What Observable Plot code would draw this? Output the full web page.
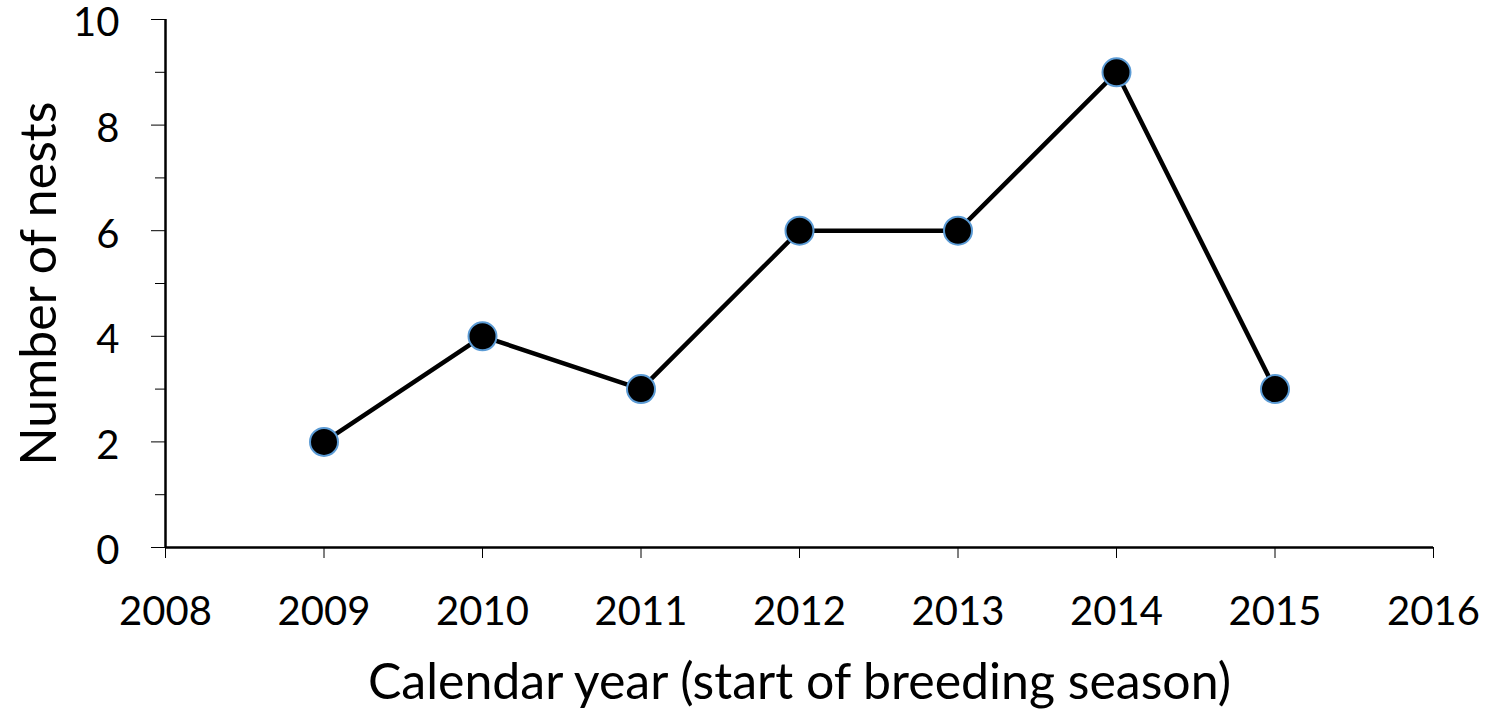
<!DOCTYPE html>
<html>
<head>
<meta charset="utf-8">
<script src="https://cdn.jsdelivr.net/npm/d3@7"></script>
<script src="https://cdn.jsdelivr.net/npm/@observablehq/plot@0.6"></script>
<style>
  html, body { margin: 0; padding: 0; background: #fff; }
</style>
</head>
<body>
<div id="chart"></div>
<script>
const years = [2009, 2010, 2011, 2012, 2013, 2014, 2015];
const nests = [2, 4, 3, 6, 6, 9, 3];
const xTicks = [2008, 2009, 2010, 2011, 2012, 2013, 2014, 2015, 2016];
const yMajorTicks = [0, 2, 4, 6, 8, 10];
const yMinorTicks = [1, 3, 5, 7, 9];
const xTitle = "Calendar year (start of breeding season)";
const yTitle = "Number of nests";

const data = years.map((y, i) => ({year: y, n: nests[i]}));

const chart = Plot.plot({
  width: 1490,
  height: 709,
  marginLeft: 165,
  marginRight: 57,
  marginTop: 19,
  marginBottom: 162,
  style: {fontFamily: "Lato, sans-serif", fontSize: "40px", color: "#000", background: "#fff"},
  x: {domain: [2008, 2016]},
  y: {domain: [0, 10]},
  marks: [
    Plot.axisX({ticks: xTicks, tickFormat: d => String(d), tickSize: 11, tickPadding: 38, tickWidth: 2.5, label: null, strokeOpacity: 1}),
    Plot.axisY({ticks: yMajorTicks, tickSize: 14, text: null, tickWidth: 2.5, label: null, strokeOpacity: 1}),
    Plot.axisY({ticks: yMajorTicks, tickSize: 0, tickPadding: 46, dy: 4, label: null}),
    Plot.axisY({ticks: yMinorTicks, tickSize: 10, text: null, tickWidth: 2.5, label: null, strokeOpacity: 1}),
    Plot.ruleX([2008], {stroke: "#000", strokeWidth: 2.5}),
    Plot.ruleY([0], {stroke: "#000", strokeWidth: 2.5}),
    Plot.line(data, {x: "year", y: "n", stroke: "#000", strokeWidth: 4.5}),
    Plot.dot(data, {x: "year", y: "n", r: 14, fill: "#000", stroke: "#5b9bd5", strokeWidth: 2}),
    Plot.text([yTitle], {frameAnchor: "left", rotate: -90, dx: -126, textAnchor: "middle", lineAnchor: "middle", fontSize: 50, fill: "#000"}),
    Plot.text([xTitle], {frameAnchor: "bottom", dy: 135, textAnchor: "middle", lineAnchor: "middle", fontSize: 50, fill: "#000"})
  ]
});
document.getElementById("chart").appendChild(chart);
</script>
</body>
</html>
